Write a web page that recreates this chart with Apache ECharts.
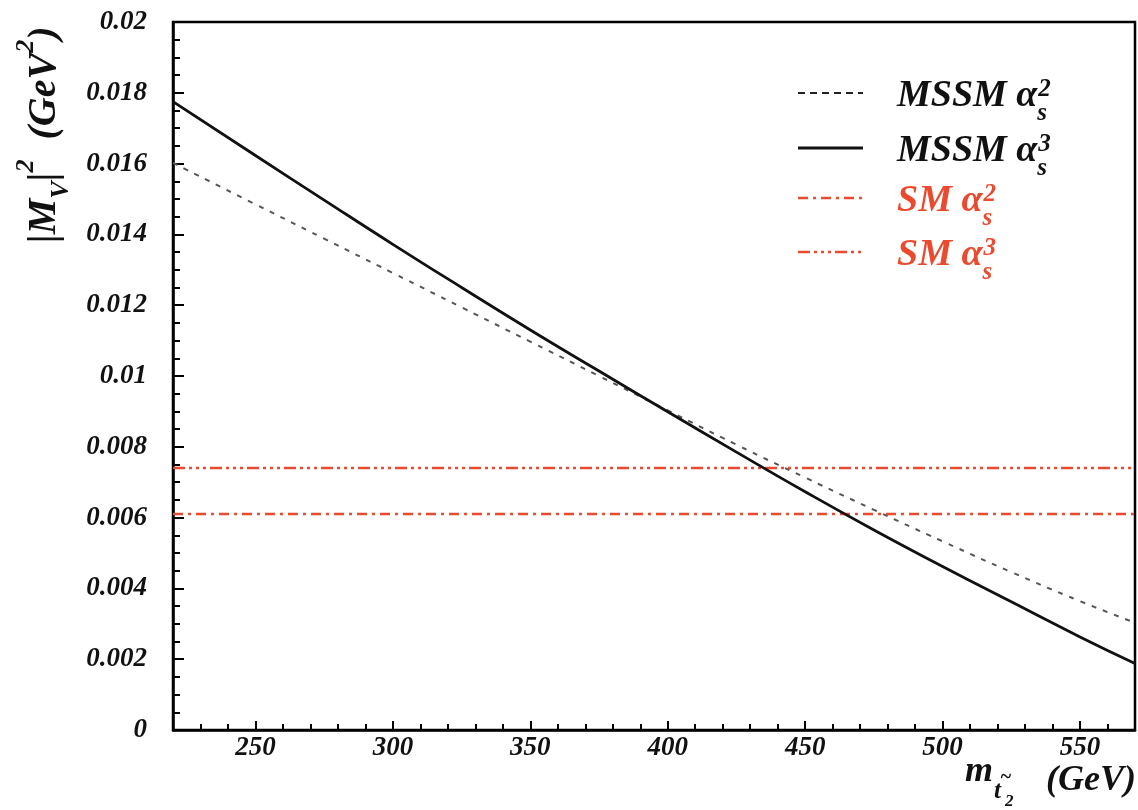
<!DOCTYPE html>
<html><head><meta charset="utf-8">
<script src="https://cdn.jsdelivr.net/npm/echarts@6/dist/echarts.min.js"></script>
<style>html,body{margin:0;padding:0;background:#fff}#c{width:1138px;height:810px}</style>
</head><body><div id="c"></div>
<script>
// ---- data ----
const xValues = [220,250,275,300,325,350,375,400,425,450,475,500,525,550,570];
const mssmAlpha2 = [0.01602,0.01485,0.01388,0.01291,0.01194,0.01097,0.01000,0.00903,0.00806,0.00713,0.00622,0.00533,0.00446,0.00364,0.00303];
const mssmAlpha3 = [0.01775,0.01623,0.01497,0.01372,0.01250,0.01130,0.01014,0.00899,0.00785,0.00673,0.00565,0.00462,0.00362,0.00263,0.00188];
const smAlpha2 = 0.0061;
const smAlpha3 = 0.0074;
const xRange = [220, 570];
const xMajorTicks = [250,300,350,400,450,500,550];
const yRange = [0, 0.02];
const legendNames = ['MSSM','MSSM','SM','SM'];
const legendPowers = ['2','3','2','3'];

const FONT = '"Liberation Serif","Times New Roman",serif';
const RED = '#ea4a2e';
const BLACK = '#111';
const styles = [
  {color:'#555', width:2, type:[5,7]},
  {color:BLACK, width:2.8, type:'solid'},
  {color:RED, width:2.4, type:[10,5,3,5]},
  {color:RED, width:2.4, type:[12,4,3,4,3,4,3,4]}
];
const legendLineStyles = [
  {color:'#222', width:2.2, dash:[7,5]},
  {color:BLACK, width:2.8, dash:null},
  {color:RED, width:2.4, dash:[10,5,3,5]},
  {color:RED, width:2.4, dash:[12,4,3,4,3,4,3,4]}
];

const ctx = document.createElement('canvas').getContext('2d');
function tw(t, size){ ctx.font = 'italic bold ' + size + 'px ' + FONT; return ctx.measureText(t).width; }
function runs(parts, x0, color){
  let x = x0; const out = [];
  for (const p of parts){
    out.push({type:'text', x: x + (p.dx||0), y: p.dy||0,
      style:{text:p.t, font:'italic bold ' + p.size + 'px ' + FONT, fill:color, align:'left', verticalAlign:'middle'}});
    if (!p.stay) x += tw(p.t, p.size);
  }
  return out;
}

const chart = echarts.init(document.getElementById('c'), null, {renderer:'canvas'});
const pair = arr => xValues.map((x,i)=>[x, arr[i]]);
const flat = v => [[xRange[0], v],[xRange[1], v]];

const labelStyle = {fontFamily:FONT, fontStyle:'italic', fontWeight:'bold', fontSize:27, color:BLACK};

// legend graphics
const rowY = [93, 148, 198, 252];
const graphics = [];
legendNames.forEach((n,i)=>{
  const st = legendLineStyles[i];
  graphics.push({type:'line', shape:{x1:798, y1:rowY[i], x2:863, y2:rowY[i]},
    style:{stroke:st.color, lineWidth:st.width, lineDash:st.dash}});
  const col = i<2 ? BLACK : RED;
  graphics.push({type:'group', x:897, y:rowY[i]+3, children: runs([
    {t:n+' α', size:38},
    {t:legendPowers[i], size:25, dy:-6, dx:1, stay:true},
    {t:'s', size:25, dy:18}
  ], 0, col)});
});
// y axis title
graphics.push({type:'group', x:45, y:243, rotation:Math.PI/2, children: runs([
  {t:'|M', size:40}, {t:'V', size:26, dy:16}, {t:'|', size:40}, {t:'2', size:26, dy:-19},
  {t:'  (GeV', size:40}, {t:'2', size:26, dy:-19}, {t:')', size:40}
], 0, BLACK)});
// x axis title
graphics.push({type:'text', x:965, y:772, style:{text:'m', font:'italic bold 36px '+FONT, fill:BLACK, verticalAlign:'middle'}});
graphics.push({type:'text', x:994, y:792, style:{text:'t', font:'italic bold 25px '+FONT, fill:BLACK, verticalAlign:'middle'}});
graphics.push({type:'text', x:1000, y:778, style:{text:'~', font:'italic bold 20px '+FONT, fill:BLACK, verticalAlign:'middle'}});
graphics.push({type:'text', x:1005, y:802, style:{text:'2', font:'italic bold 17px '+FONT, fill:BLACK, verticalAlign:'middle'}});
graphics.push({type:'text', x:1136, y:781, style:{text:'(GeV)', font:'italic bold 36px '+FONT, fill:BLACK, align:'right', verticalAlign:'middle'}});

const seriesNames = ['MSSM αs²','MSSM αs³','SM αs²','SM αs³'];
const seriesData = [pair(mssmAlpha2), pair(mssmAlpha3), flat(smAlpha2), flat(smAlpha3)];

chart.setOption({
  animation:false,
  backgroundColor:'#fff',
  grid:{left:173, right:1.5, top:22, bottom:80, show:true, borderColor:'#000', borderWidth:2.5, backgroundColor:'transparent'},
  xAxis:[{
    type:'value', min:xRange[0], max:xRange[1], interval:10,
    axisLine:{show:true, onZero:false, lineStyle:{color:'#000', width:2.5}},
    axisTick:{show:true, inside:true, length:6, lineStyle:{color:'#000', width:2}},
    splitLine:{show:false},
    axisLabel:Object.assign({margin:5, formatter:v=>(Math.round(v)%50===0 ? String(Math.round(v)) : '')}, labelStyle)
  },{
    type:'value', position:'bottom', min:xRange[0], max:xRange[1],
    axisLine:{show:false},
    axisTick:{show:true, inside:true, length:9, customValues:xMajorTicks, lineStyle:{color:'#000', width:2}},
    axisLabel:{show:false},
    splitLine:{show:false}
  }],
  yAxis:{
    type:'value', min:yRange[0], max:yRange[1], interval:0.002,
    axisLine:{show:true, lineStyle:{color:'#000', width:2.5}},
    axisTick:{show:true, inside:true, length:11, lineStyle:{color:'#000', width:2}},
    minorTick:{show:true, splitNumber:4, length:7, lineStyle:{color:'#000', width:2}},
    splitLine:{show:false},
    axisLabel:Object.assign({margin:26, formatter:v=>String(parseFloat(v.toFixed(4)))}, labelStyle)
  },
  series: seriesData.map((d,i)=>({
    name:seriesNames[i], type:'line', data:d, showSymbol:false, smooth:i<2 ? true : false,
    lineStyle:{color:styles[i].color, width:styles[i].width, type:styles[i].type},
    z: i===1 ? 4 : 3
  })),
  graphic:graphics
});
</script></body></html>
